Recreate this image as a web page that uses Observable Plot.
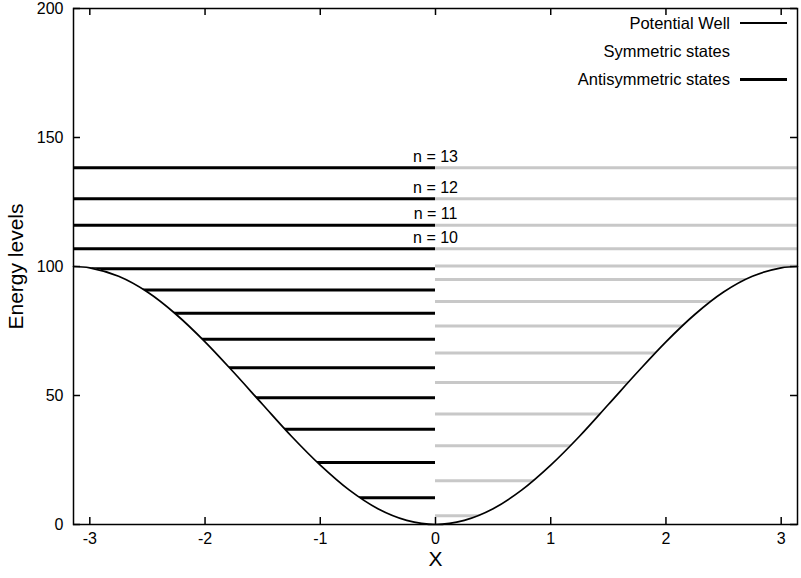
<!DOCTYPE html>
<html><head><meta charset="utf-8">
<script src="https://cdn.jsdelivr.net/npm/d3@7"></script>
<script src="https://cdn.jsdelivr.net/npm/@observablehq/plot@0.6"></script>
<style>
body{margin:0;background:#fff;}
#wrap{position:relative;width:801px;height:578px;font-family:"Liberation Sans",Arial,Helvetica,sans-serif;color:#000;}
.lt{position:absolute;left:0;width:730px;text-align:right;font-size:16.5px;line-height:18px;white-space:nowrap;}
.ls{position:absolute;left:740px;width:47px;background:#000;}
</style>
</head><body>
<div id="wrap"></div>
<script>
// Potential well
const wellX = [-3.1416, -3, -2.75, -2.5, -2.25, -2, -1.75, -1.5, -1.25, -1, -0.75, -0.5, -0.25, 0, 0.25, 0.5, 0.75, 1, 1.25, 1.5, 1.75, 2, 2.25, 2.5, 2.75, 3, 3.1416];
const wellV = [100, 99.5, 96.2, 90.1, 81.4, 70.8, 58.9, 46.5, 34.2, 23.0, 13.4, 6.1, 1.6, 0, 1.6, 6.1, 13.4, 23.0, 34.2, 46.5, 58.9, 70.8, 81.4, 90.1, 96.2, 99.5, 100];
// Energy levels
const symmetricE = [3.4, 17.0, 30.5, 42.8, 55.0, 66.5, 76.9, 86.4, 95.0, 100.2, 106.9, 116.0, 126.3, 138.3];
const antisymmetricE = [10.4, 24.0, 36.9, 49.1, 60.8, 71.8, 81.9, 90.9, 99.1, 106.9, 116.0, 126.3, 138.3];
// Level labels
const nLabels = ["n = 10", "n = 11", "n = 12", "n = 13"];
const nEnergy = [106.9, 116.0, 126.3, 138.3];
// Ticks
const xTicks = [-3, -2, -1, 0, 1, 2, 3];
const yTicks = [0, 50, 100, 150, 200];
const legendLabels = ["Potential Well", "Symmetric states", "Antisymmetric states"];

const xMin = -Math.PI, xMax = Math.PI, xMid = 0;
const well = wellX.map((x, i) => ({x, v: wellV[i]}));
const labels = nLabels.map((t, i) => ({t, E: nEnergy[i]}));

const W = 801, H = 578, mL = 73, mR = 4, mT = 8, mB = 54;
const pw = W - mL - mR, ph = H - mT - mB, tk = 7;

const chart = Plot.plot({
  width: W, height: H,
  marginLeft: mL, marginRight: mR, marginTop: mT, marginBottom: mB,
  style: {fontFamily: '"Liberation Sans", Arial, Helvetica, sans-serif', fontSize: "16px", background: "#fff", color: "#000"},
  x: {domain: [xMin, xMax]},
  y: {domain: [0, 200]},
  marks: [
    Plot.ruleY(symmetricE, {y: d => d, x1: () => xMid, x2: () => xMax, stroke: "#c8c8c8", strokeWidth: 3}),
    Plot.ruleY(antisymmetricE, {y: d => d, x1: () => xMin, x2: () => xMid, stroke: "#000", strokeWidth: 3}),
    Plot.areaY(well, {x: "x", y: "v", fill: "#fff", curve: "catmull-rom"}),
    Plot.line(well, {x: "x", y: "v", stroke: "#000", strokeWidth: 1.7, curve: "catmull-rom"}),
    Plot.text(labels, {x: () => xMid, y: "E", text: "t", dy: -11, fontSize: 16}),
    Plot.axisX({ticks: xTicks, tickFormat: d => String(d), tickSize: 0, tickPadding: 8, label: null, fontSize: 16}),
    Plot.axisY({ticks: yTicks, tickFormat: d => String(d), tickSize: 0, tickPadding: 10, label: null, fontSize: 16}),
    Plot.tickY(yTicks, {y: d => d, insetRight: pw - tk, stroke: "#000", strokeWidth: 1.5}),
    Plot.tickY(yTicks, {y: d => d, insetLeft: pw - tk, stroke: "#000", strokeWidth: 1.5}),
    Plot.tickX(xTicks, {x: d => d, insetTop: ph - tk, stroke: "#000", strokeWidth: 1.5}),
    Plot.tickX(xTicks, {x: d => d, insetBottom: ph - tk, stroke: "#000", strokeWidth: 1.5}),
    Plot.text(["Energy levels"], {text: d => d, frameAnchor: "left", textAnchor: "middle", rotate: -90, dx: -57, fontSize: 21}),
    Plot.text(["X"], {text: d => d, frameAnchor: "bottom", dy: 41, fontSize: 21}),
    Plot.frame({stroke: "#000", strokeWidth: 1.5})
  ]
});
const wrap = document.getElementById("wrap");
wrap.appendChild(chart);

// Legend (top right, inside the frame)
const legYs = [23, 51, 79];
const legW = [1.5, 0, 3];
legendLabels.forEach((t, i) => {
  const d = document.createElement("div");
  d.className = "lt"; d.style.top = (legYs[i] - 9) + "px"; d.textContent = t;
  wrap.appendChild(d);
  if (legW[i] > 0) {
    const s = document.createElement("div");
    s.className = "ls"; s.style.top = (legYs[i] - legW[i] / 2) + "px"; s.style.height = legW[i] + "px";
    wrap.appendChild(s);
  }
});
</script>
</body></html>
